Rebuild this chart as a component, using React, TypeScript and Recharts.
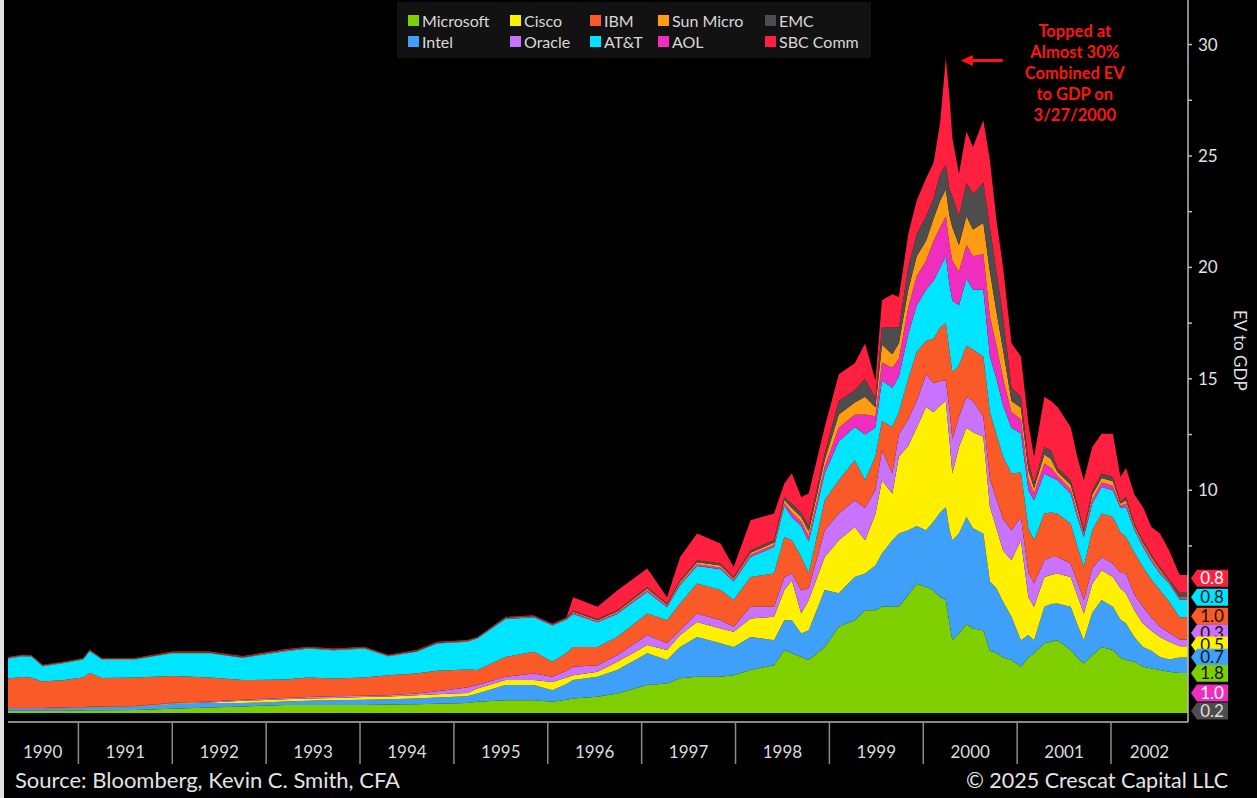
import React from 'react';
import { AreaChart, Area, XAxis, YAxis, Legend, ReferenceDot } from 'recharts';

const dates = [1990.25, 1990.4, 1990.5, 1990.62, 1990.85, 1991.05, 1991.12, 1991.25, 1991.6, 1992.0, 1992.4, 1992.75, 1993.2, 1993.45, 1993.72, 1994.05, 1994.3, 1994.6, 1994.82, 1995.14, 1995.25, 1995.55, 1995.85, 1996.05, 1996.2, 1996.27, 1996.53, 1996.74, 1997.06, 1997.27, 1997.41, 1997.59, 1997.84, 1997.98, 1998.16, 1998.41, 1998.52, 1998.6, 1998.7, 1998.78, 1998.95, 1999.1, 1999.27, 1999.38, 1999.49, 1999.56, 1999.67, 1999.74, 1999.84, 1999.93, 2000.03, 2000.11, 2000.18, 2000.24, 2000.28, 2000.31, 2000.38, 2000.46, 2000.53, 2000.64, 2000.71, 2000.78, 2000.85, 2000.94, 2001.04, 2001.12, 2001.18, 2001.29, 2001.36, 2001.43, 2001.57, 2001.64, 2001.71, 2001.8, 2001.9, 2002.02, 2002.1, 2002.16, 2002.25, 2002.34, 2002.43, 2002.52, 2002.62, 2002.73, 2002.82];

const microsoft = [0.10, 0.10, 0.10, 0.10, 0.11, 0.12, 0.13, 0.13, 0.14, 0.20, 0.25, 0.30, 0.36, 0.36, 0.36, 0.36, 0.38, 0.40, 0.42, 0.45, 0.51, 0.58, 0.58, 0.51, 0.60, 0.66, 0.73, 0.88, 1.26, 1.33, 1.56, 1.63, 1.63, 1.70, 1.93, 2.15, 2.83, 2.68, 2.52, 2.38, 2.97, 3.87, 4.17, 4.62, 4.62, 4.77, 4.77, 4.77, 5.30, 5.80, 5.66, 5.50, 5.20, 5.07, 4.00, 3.27, 3.57, 4.00, 3.80, 3.72, 2.80, 2.70, 2.50, 2.38, 2.08, 2.50, 2.68, 3.13, 3.20, 3.27, 2.83, 2.50, 2.23, 2.60, 2.97, 2.83, 2.50, 2.38, 2.30, 2.08, 2.00, 1.93, 1.85, 1.80, 1.80];
const intel = [0.08, 0.08, 0.08, 0.08, 0.09, 0.10, 0.10, 0.11, 0.13, 0.20, 0.20, 0.15, 0.16, 0.19, 0.22, 0.24, 0.24, 0.26, 0.28, 0.30, 0.37, 0.68, 0.68, 0.52, 0.70, 0.82, 0.90, 1.05, 1.42, 1.05, 1.41, 1.79, 1.50, 1.27, 1.49, 1.12, 1.34, 1.49, 1.05, 1.34, 2.55, 1.51, 1.94, 1.64, 2.00, 2.39, 2.99, 3.29, 2.90, 2.60, 2.54, 3.10, 3.80, 4.18, 4.20, 4.49, 4.49, 4.80, 4.50, 4.34, 3.10, 2.90, 2.50, 1.94, 1.19, 1.00, 0.59, 1.64, 1.70, 1.65, 1.94, 1.50, 1.04, 1.90, 2.10, 1.94, 1.70, 1.64, 1.10, 0.89, 0.80, 0.59, 0.55, 0.70, 0.70];
const cisco = [0.02, 0.02, 0.02, 0.02, 0.02, 0.02, 0.02, 0.02, 0.02, 0.03, 0.03, 0.10, 0.10, 0.10, 0.10, 0.12, 0.12, 0.14, 0.15, 0.15, 0.22, 0.22, 0.22, 0.37, 0.30, 0.22, 0.22, 0.37, 0.37, 0.45, 0.53, 0.67, 0.67, 0.68, 0.82, 1.05, 1.35, 1.79, 0.90, 1.35, 1.48, 2.38, 2.24, 1.50, 2.30, 3.29, 2.09, 3.44, 3.80, 4.40, 5.54, 4.90, 4.80, 4.75, 4.00, 2.99, 3.88, 4.00, 4.30, 4.34, 3.35, 2.70, 2.30, 2.54, 4.49, 1.70, 1.50, 1.34, 1.30, 1.34, 1.34, 1.30, 1.20, 1.30, 1.34, 1.34, 1.40, 1.35, 1.20, 1.05, 0.90, 0.90, 0.80, 0.50, 0.50];
const oracle = [0.03, 0.03, 0.03, 0.03, 0.03, 0.03, 0.03, 0.03, 0.03, 0.03, 0.04, 0.05, 0.06, 0.07, 0.07, 0.06, 0.06, 0.08, 0.13, 0.25, 0.16, 0.15, 0.30, 0.23, 0.30, 0.38, 0.30, 0.30, 0.45, 0.30, 0.22, 0.38, 0.37, 0.22, 0.53, 0.45, 0.58, 0.30, 1.03, 0.53, 1.20, 1.20, 1.20, 1.44, 1.10, 1.35, 0.90, 1.00, 1.20, 1.20, 1.46, 1.30, 1.10, 0.93, 1.40, 1.55, 1.36, 1.40, 1.40, 0.90, 1.25, 1.30, 1.40, 1.34, 1.04, 1.10, 1.04, 0.75, 0.80, 0.74, 0.60, 0.60, 0.60, 0.70, 0.59, 0.59, 0.70, 0.89, 0.70, 0.75, 0.60, 0.45, 0.40, 0.30, 0.30];
const ibm = [1.32, 1.39, 1.36, 1.19, 1.23, 1.33, 1.52, 1.28, 1.28, 1.20, 1.08, 0.88, 0.83, 0.88, 0.80, 0.82, 0.90, 0.90, 0.92, 0.81, 0.67, 0.89, 0.97, 0.67, 0.80, 0.89, 0.82, 0.82, 0.97, 1.04, 1.20, 1.34, 1.35, 1.20, 1.34, 1.49, 1.80, 1.50, 1.50, 0.66, 1.35, 1.49, 1.80, 1.25, 1.50, 1.30, 2.09, 1.00, 1.80, 2.20, 1.50, 2.00, 2.40, 2.57, 2.60, 3.00, 2.30, 2.30, 2.30, 2.70, 3.00, 2.90, 2.80, 2.55, 2.00, 2.00, 1.95, 2.10, 2.00, 1.96, 1.79, 1.60, 1.49, 1.70, 1.96, 2.10, 1.80, 1.64, 1.90, 1.79, 1.70, 1.65, 1.40, 1.00, 1.00];
const att = [0.90, 0.93, 0.95, 0.68, 0.77, 0.80, 0.98, 0.83, 0.80, 1.02, 1.08, 1.00, 1.27, 1.30, 1.27, 1.30, 0.85, 0.97, 1.22, 1.24, 1.42, 1.70, 1.55, 1.63, 1.50, 1.48, 1.11, 1.03, 0.98, 0.58, 0.83, 0.79, 0.93, 0.83, 0.89, 1.19, 1.40, 1.04, 1.40, 1.44, 1.21, 1.75, 1.49, 2.05, 1.30, 1.83, 1.76, 1.60, 2.00, 2.10, 2.30, 2.60, 2.70, 3.00, 3.00, 3.20, 2.70, 3.00, 2.70, 3.00, 2.50, 2.50, 2.30, 2.05, 1.75, 1.70, 1.79, 1.79, 1.60, 1.49, 1.35, 1.30, 1.34, 1.20, 1.19, 1.20, 1.10, 1.35, 1.00, 0.90, 0.80, 0.74, 0.80, 0.80, 0.80];
const aol = [0.01, 0.01, 0.01, 0.01, 0.01, 0.01, 0.01, 0.01, 0.01, 0.01, 0.01, 0.01, 0.01, 0.01, 0.01, 0.01, 0.01, 0.01, 0.01, 0.01, 0.01, 0.02, 0.02, 0.02, 0.02, 0.05, 0.04, 0.05, 0.07, 0.05, 0.07, 0.08, 0.08, 0.07, 0.10, 0.10, 0.13, 0.20, 0.20, 0.23, 0.30, 0.60, 0.55, 0.90, 0.50, 0.80, 0.90, 0.80, 1.20, 1.30, 1.30, 1.80, 1.80, 1.80, 1.80, 1.80, 1.50, 1.50, 1.50, 1.60, 1.80, 1.50, 1.20, 0.70, 0.65, 0.50, 0.30, 0.45, 0.40, 0.20, 0.20, 0.20, 0.10, 0.20, 0.20, 0.20, 0.10, 0.15, 0.10, 0.10, 0.10, 0.10, 0.05, 0.05, 0.05];
const sunMicro = [0.02, 0.02, 0.02, 0.02, 0.02, 0.02, 0.02, 0.02, 0.02, 0.02, 0.02, 0.02, 0.02, 0.02, 0.02, 0.02, 0.02, 0.02, 0.02, 0.02, 0.02, 0.03, 0.03, 0.03, 0.03, 0.05, 0.05, 0.06, 0.07, 0.06, 0.07, 0.09, 0.09, 0.07, 0.10, 0.10, 0.13, 0.20, 0.20, 0.23, 0.30, 0.60, 0.55, 0.80, 0.40, 0.80, 0.60, 0.70, 0.80, 0.90, 0.90, 1.00, 1.20, 1.20, 1.30, 1.50, 1.20, 1.30, 1.20, 1.40, 2.00, 1.50, 1.30, 0.50, 0.50, 0.40, 0.25, 0.40, 0.40, 0.17, 0.20, 0.20, 0.10, 0.20, 0.20, 0.20, 0.10, 0.15, 0.10, 0.10, 0.10, 0.10, 0.05, 0.05, 0.05];
const emc = [0.02, 0.02, 0.02, 0.02, 0.02, 0.02, 0.02, 0.02, 0.02, 0.02, 0.02, 0.02, 0.02, 0.02, 0.02, 0.02, 0.02, 0.02, 0.02, 0.02, 0.02, 0.03, 0.02, 0.02, 0.03, 0.05, 0.05, 0.06, 0.07, 0.06, 0.07, 0.09, 0.09, 0.07, 0.11, 0.11, 0.14, 0.20, 0.20, 0.24, 0.30, 0.60, 0.56, 0.80, 0.40, 0.80, 1.20, 0.70, 1.00, 1.00, 1.10, 0.90, 1.20, 1.10, 1.20, 1.40, 1.30, 1.50, 1.60, 1.80, 2.00, 1.80, 1.50, 0.60, 0.50, 0.40, 0.20, 0.34, 0.40, 0.18, 0.20, 0.20, 0.10, 0.20, 0.20, 0.20, 0.10, 0.15, 0.10, 0.10, 0.10, 0.10, 0.10, 0.20, 0.20];
const sbcComm = [0.02, 0.02, 0.02, 0.02, 0.02, 0.02, 0.02, 0.02, 0.02, 0.03, 0.03, 0.03, 0.03, 0.03, 0.03, 0.03, 0.02, 0.03, 0.03, 0.03, 0.02, 0.02, 0.02, 0.02, 0.02, 0.60, 0.55, 0.88, 0.83, 0.28, 1.04, 1.20, 0.90, 0.45, 1.34, 1.20, 0.60, 1.35, 0.70, 1.45, 1.18, 1.20, 1.20, 1.58, 0.81, 1.20, 1.50, 1.37, 1.50, 1.50, 1.70, 1.60, 2.30, 4.80, 4.10, 2.60, 1.90, 2.30, 2.10, 2.80, 3.00, 2.30, 2.20, 2.00, 1.80, 1.70, 1.20, 2.26, 2.20, 2.74, 2.39, 2.10, 2.25, 1.94, 1.79, 1.94, 1.10, 1.30, 1.30, 1.49, 1.25, 1.50, 1.30, 0.80, 0.80];

const seriesNames = ['Microsoft', 'Intel', 'Cisco', 'Oracle', 'IBM', 'AT&T', 'AOL', 'Sun Micro', 'EMC', 'SBC Comm'];
const seriesKeys = ['msft', 'intc', 'csco', 'orcl', 'ibm', 'att', 'aol', 'sunw', 'emc', 'sbc'];
const seriesValues = [microsoft, intel, cisco, oracle, ibm, att, aol, sunMicro, emc, sbcComm];
const seriesColors = ['#7fcf00', '#3fa0fa', '#fff000', '#c872ff', '#fa5a28', '#00e5ff', '#ef2dbf', '#ff9c12', '#4d4d4d', '#ff2040'];

// legend layout: row 1 then row 2
const legendRow1 = ['Microsoft', 'Cisco', 'IBM', 'Sun Micro', 'EMC'];
const legendRow2 = ['Intel', 'Oracle', 'AT&T', 'AOL', 'SBC Comm'];

const yearBoundaries = [1991, 1992, 1993, 1994, 1995, 1996, 1997, 1998, 1999, 2000, 2001, 2002];
const yearLabelPositions = [1990.62, 1991.5, 1992.5, 1993.5, 1994.5, 1995.5, 1996.5, 1997.5, 1998.5, 1999.5, 2000.5, 2001.5, 2002.41];
const yearLabels = ['1990', '1991', '1992', '1993', '1994', '1995', '1996', '1997', '1998', '1999', '2000', '2001', '2002'];
const yTicks = [7.5, 10, 12.5, 15, 17.5, 20, 22.5, 25, 27.5, 30];

// end-of-series value tags (draw order)
const endTagNames = ['SBC Comm', 'AT&T', 'IBM', 'Oracle', 'Cisco', 'Intel', 'Microsoft', 'AOL', 'EMC'];
const endTagTexts = ['0.8', '0.8', '1.0', '0.3', '0.5', '0.7', '1.8', '1.0', '0.2'];
const endTagLevels = [6.05, 5.2, 4.35, 3.59, 3.05, 2.51, 1.79, 0.9, 0.09];
const endTagTextColors = ['#ffffff', '#111111', '#111111', '#111111', '#111111', '#111111', '#111111', '#ffffff', '#dddddd'];

const peakDate = 2000.24;
const peakValue = 29.4;
const annotationLines = ['Topped at', 'Almost 30%', 'Combined EV', 'to GDP on', '3/27/2000'];

const data = dates.map((t, i) => {
  const row: any = { t };
  seriesKeys.forEach((k, j) => {
    row[k] = seriesValues[j][i];
  });
  return row;
});

const xAxisTicks = [...yearBoundaries, ...yearLabelPositions].sort((a, b) => a - b);

const FONT = 'Lato, "Open Sans", sans-serif';
const X_DOMAIN: [number, number] = [dates[0], dates[dates.length - 1]];
const Y_DOMAIN: [number, number] = [-0.4, 32];

const colorOf = (name: string) => seriesColors[seriesNames.indexOf(name)];

const XTick = (props: any) => {
  const { x, y, payload } = props;
  const v = payload.value;
  if (yearBoundaries.indexOf(v) >= 0) {
    return <line x1={x} x2={x} y1={y - 24} y2={y + 18} stroke="#8a8a8a" strokeWidth={1.5} />;
  }
  const li = yearLabelPositions.indexOf(v);
  return (
    <text x={x} y={y} dy={12} textAnchor="middle" fill="#dcdcdc" fontSize={17} fontFamily={FONT}>
      {yearLabels[li]}
    </text>
  );
};

const YTick = (props: any) => {
  const { x, y, payload } = props;
  const v = payload.value;
  if (v % 5 !== 0 || v < 10) return <g />;
  return (
    <text x={x} y={y} dy={6} fill="#e2e2e2" fontSize={17} fontFamily={FONT} textAnchor="start">
      {v}
    </text>
  );
};

const makeTag = (i: number) => (props: any) => {
  const { cx, cy } = props;
  const c = colorOf(endTagNames[i]);
  return (
    <g>
      <polygon
        points={`${cx + 3},${cy} ${cx + 9},${cy - 8.5} ${cx + 40},${cy - 8.5} ${cx + 40},${cy + 8.5} ${cx + 9},${cy + 8.5}`}
        fill={c}
      />
      <text x={cx + 24} y={cy} dy={6} textAnchor="middle" fill={endTagTextColors[i]} fontSize={17} fontFamily={FONT}>
        {endTagTexts[i]}
      </text>
    </g>
  );
};

const Annotation = (props: any) => {
  const { cx, cy } = props;
  const red = '#ff1414';
  return (
    <g>
      <line x1={cx + 57} y1={cy + 2.5} x2={cx + 24} y2={cy + 2.5} stroke={red} strokeWidth={3} />
      <polygon points={`${cx + 15},${cy + 2.5} ${cx + 27},${cy - 3} ${cx + 27},${cy + 8}`} fill={red} />
      {annotationLines.map((s, i) => (
        <text
          key={i}
          x={cx + 129}
          y={cy - 27 + i * 21}
          dy={6}
          textAnchor="middle"
          fill={red}
          fontSize={16.5}
          fontWeight={700}
          fontFamily={FONT}
        >
          {s}
        </text>
      ))}
    </g>
  );
};

const LegendBox = () => {
  const colW = [102, 80, 68, 107, 105];
  const renderRow = (row: string[]) => (
    <div style={{ display: 'flex', height: 21, alignItems: 'center' }}>
      {row.map((name, i) => (
        <div key={name} style={{ width: colW[i], display: 'flex', alignItems: 'center' }}>
          <span style={{ width: 11, height: 11, background: colorOf(name), display: 'inline-block', marginRight: 3 }} />
          <span style={{ color: '#d8d8d8', fontSize: 16, fontFamily: FONT, lineHeight: '21px', whiteSpace: 'nowrap' }}>{name}</span>
        </div>
      ))}
    </div>
  );
  return (
    <div style={{ background: '#121212', width: 474, height: 56, boxSizing: 'border-box', paddingLeft: 11, paddingTop: 8 }}>
      {renderRow(legendRow1)}
      {renderRow(legendRow2)}
    </div>
  );
};

export default function App() {
  return (
    <div style={{ position: 'absolute', left: 0, top: 0, width: 1257, height: 798, background: '#000', overflow: 'hidden' }}>
      <AreaChart width={1257} height={798} data={data} margin={{ top: 0, right: 0, bottom: 0, left: 8 }}>
        <XAxis
          dataKey="t"
          type="number"
          domain={X_DOMAIN}
          allowDataOverflow
          ticks={xAxisTicks}
          interval={0}
          tick={<XTick />}
          tickLine={false}
          tickSize={12}
          tickMargin={12}
          axisLine={{ stroke: '#8a8a8a', strokeWidth: 2 }}
          height={76}
        />
        <YAxis
          orientation="right"
          width={69}
          domain={Y_DOMAIN}
          allowDataOverflow
          ticks={yTicks}
          interval={0}
          tickSize={4}
          tickMargin={6}
          tick={<YTick />}
          axisLine={{ stroke: '#bdbdbd', strokeWidth: 1.5 }}
          tickLine={{ stroke: '#bdbdbd', strokeWidth: 1.5 }}
        />
        <Legend
          layout="vertical"
          align="center"
          verticalAlign="middle"
          wrapperStyle={{ position: 'absolute', left: 397, top: 2, width: 474, height: 56 }}
          content={() => <LegendBox />}
        />
        {seriesKeys.map((k, i) => (
          <Area
            key={k}
            type="linear"
            dataKey={k}
            name={seriesNames[i]}
            stackId="ev"
            stroke="none"
            fill={seriesColors[i]}
            fillOpacity={1}
            isAnimationActive={false}
            dot={false}
            activeDot={false}
          />
        ))}
        <ReferenceDot x={peakDate} y={peakValue} ifOverflow="visible" shape={<Annotation />} />
        {endTagNames.map((n, i) => (
          <ReferenceDot
            key={n}
            x={dates[dates.length - 1]}
            y={endTagLevels[i]}
            ifOverflow="visible"
            shape={makeTag(i)}
          />
        ))}
      </AreaChart>
      <div style={{ position: 'absolute', left: 0, top: 0, width: 4, height: 798, background: '#e2e2e2' }} />
      <div style={{ position: 'absolute', left: 1230, top: 310, writingMode: 'vertical-rl', color: '#dcdcdc', fontSize: 17, fontFamily: FONT, whiteSpace: 'nowrap' }}>
        EV to GDP
      </div>
      <div style={{ position: 'absolute', left: 15, top: 767, color: '#e4e4e4', fontSize: 22, fontFamily: FONT, lineHeight: '26px', whiteSpace: 'nowrap' }}>
        Source: Bloomberg, Kevin C. Smith, CFA
      </div>
      <div style={{ position: 'absolute', right: 29, top: 767, color: '#e4e4e4', fontSize: 21.5, fontFamily: FONT, lineHeight: '26px', whiteSpace: 'nowrap' }}>
        © 2025 Crescat Capital LLC
      </div>
    </div>
  );
}
